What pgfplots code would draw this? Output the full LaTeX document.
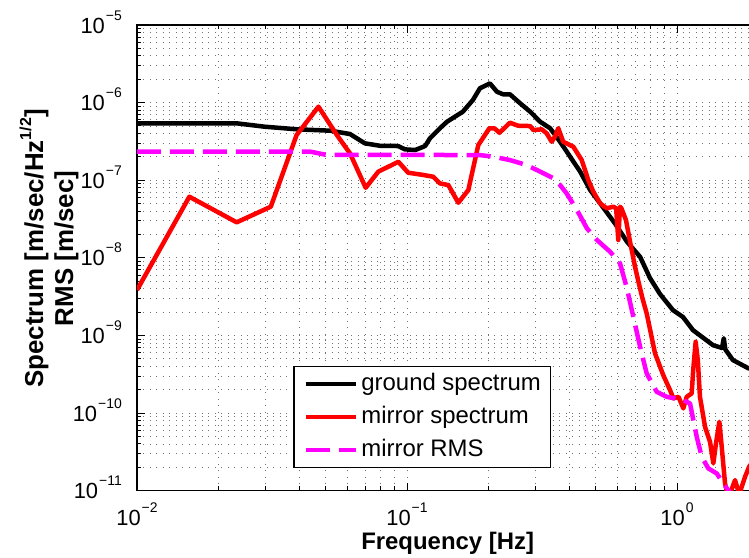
\documentclass[border=0pt]{standalone}
\usepackage{fontspec}
\setmainfont{Liberation Sans}
\usepackage{pgfplots}
\pgfplotsset{compat=1.18}
\newcommand{\tp}[1]{10\raisebox{13bp}{\fontsize{14}{14}\selectfont\kern1bp #1}}
\definecolor{mred}{RGB}{255,0,0}
\definecolor{mmag}{RGB}{255,0,255}
\begin{document}
\begin{tikzpicture}
\begin{axis}[
  xmode=log, ymode=log,
  scale only axis, width=621.3bp, height=465.7bp,
  xmin=0.01, xmax=2, ymin=1e-11, ymax=1e-5,
  xtick={0.01,0.1,1},
  xticklabels={\tp{−2},\tp{−1},\tp{0}},
  ytick={1e-11,1e-10,1e-9,1e-8,1e-7,1e-6,1e-5},
  yticklabels={\tp{−11},\tp{−10},\tp{−9},\tp{−8},\tp{−7},\tp{−6},\tp{−5}},
  minor xtick={0.02,0.03,0.04,0.05,0.06,0.07,0.08,0.09,0.2,0.3,0.4,0.5,0.6,0.7,0.8,0.9,2},
  minor ytick={2e-11,3e-11,4e-11,5e-11,6e-11,7e-11,8e-11,9e-11,
               2e-10,3e-10,4e-10,5e-10,6e-10,7e-10,8e-10,9e-10,
               2e-9,3e-9,4e-9,5e-9,6e-9,7e-9,8e-9,9e-9,
               2e-8,3e-8,4e-8,5e-8,6e-8,7e-8,8e-8,9e-8,
               2e-7,3e-7,4e-7,5e-7,6e-7,7e-7,8e-7,9e-7,
               2e-6,3e-6,4e-6,5e-6,6e-6,7e-6,8e-6,9e-6},
  grid=both,
  major grid style={line width=0.9bp, black!55, dash pattern=on 1bp off 5.5bp},
  minor grid style={line width=0.9bp, black!55, dash pattern=on 1bp off 5.5bp},
  tick align=inside,
  major tick length=8bp, minor tick length=4.5bp,
  every tick/.style={black, line width=1bp},
  axis line style={line width=1.4bp},
  xticklabel style={font=\fontsize{22}{22}\selectfont, inner sep=0pt, anchor=base, yshift=-34.3bp},
  yticklabel style={font=\fontsize{22}{22}\selectfont, inner sep=0pt, anchor=base east, xshift=-15bp, yshift=-8bp},
  xlabel={Frequency [Hz]},
  xlabel style={font=\bfseries\fontsize{24}{24}\selectfont, inner sep=0pt, at={(axis description cs:0.5,-0.1252)}, anchor=base},
  ylabel={Spectrum [m/sec/Hz\raisebox{12bp}{\fontsize{16}{16}\selectfont 1/2}]\\RMS [m/sec]},
  ylabel style={font=\bfseries\fontsize{26}{30}\selectfont, align=center, inner sep=0pt, at={(axis description cs:-0.094,0.52)}, anchor=south},
  legend style={at={(axis description cs:0.2516,0.0481)}, anchor=south west, draw=black, line width=1.2bp,
    font=\fontsize{24}{24}\selectfont, inner xsep=10bp, inner ysep=6.5bp, row sep=11bp,
    nodes={inner sep=0pt, text height=17bp, text depth=5bp}},
  legend cell align=left,
  legend image code/.code={\draw[#1] (0bp,0bp) -- (50bp,0bp) node[right, draw=none, inner sep=0pt, minimum width=3bp] {};},
]
\addplot[black, line width=4.5bp, line join=round] coordinates {
(0.01,5.41e-7) (0.0234,5.41e-7) (0.0298,4.89e-7) (0.0392,4.53e-7) (0.0519,4.35e-7)
(0.0615,3.94e-7) (0.0698,2.99e-7) (0.0794,2.78e-7) (0.0927,2.76e-7) (0.0983,2.50e-7)
(0.1072,2.45e-7) (0.1167,2.76e-7) (0.1216,3.47e-7) (0.1324,4.67e-7) (0.1406,5.67e-7)
(0.161,7.64e-7) (0.1754,1.08e-6) (0.1862,1.53e-6) (0.2027,1.77e-6) (0.2154,1.38e-6)
(0.227,1.28e-6) (0.2405,1.28e-6) (0.2624,9.8e-7) (0.2858,7.64e-7) (0.3113,5.67e-7)
(0.339,4.67e-7) (0.369,3.13e-7) (0.402,2.01e-7) (0.4378,1.29e-7) (0.4768,7.48e-8)
(0.519,5.04e-8) (0.589,2.78e-8) (0.653,1.61e-8) (0.730,1.03e-8) (0.794,5.5e-9)
(0.865,3.42e-9) (0.966,2.12e-9) (1.052,1.73e-9) (1.146,1.17e-9) (1.359,7.5e-10)
(1.468,6.9e-10) (1.49,9.2e-10) (1.51,6.6e-10) (1.611,4.82e-10) (1.832,3.8e-10)
(2.0,3.48e-10)
};
\addlegendentry{ground spectrum}
\addplot[mred, line width=4.5bp, line join=round] coordinates {
(0.01,3.85e-9) (0.01563,6.13e-8) (0.0234,2.87e-8) (0.0313,4.56e-8) (0.039,3.82e-7)
(0.047,8.86e-7) (0.055,3.82e-7) (0.0615,2.22e-7) (0.0703,8.0e-8) (0.0783,1.29e-7)
(0.0929,1.73e-7) (0.101,1.25e-7) (0.1148,1.17e-7) (0.125,1.11e-7) (0.1324,9.1e-8)
(0.1422,8.67e-8) (0.1549,5.13e-8) (0.1687,7.48e-8) (0.1837,2.84e-7) (0.2018,4.67e-7)
(0.2107,4.67e-7) (0.22,4.09e-7) (0.2405,5.51e-7) (0.258,5.04e-7) (0.2858,4.99e-7)
(0.2937,4.43e-7) (0.3155,4.53e-7) (0.329,4.02e-7) (0.3435,3.13e-7) (0.353,3.64e-7)
(0.3633,4.67e-7) (0.379,3.13e-7) (0.413,2.70e-7) (0.4437,1.82e-7) (0.469,1.01e-7)
(0.490,7.11e-8) (0.519,5.04e-8) (0.549,4.35e-8) (0.581,4.56e-8) (0.595,4.35e-8)
(0.606,1.70e-8) (0.615,4.56e-8) (0.6225,4.35e-8) (0.647,3.07e-8) (0.670,1.61e-8)
(0.699,7.7e-9) (0.719,5.0e-9) (0.745,3.0e-9) (0.772,1.93e-9) (0.829,5.88e-10)
(0.889,3.09e-10) (0.942,1.98e-10) (0.969,1.55e-10) (1.013,1.62e-10) (1.055,1.15e-10)
(1.086,1.62e-10) (1.133,1.79e-10) (1.148,3.58e-10) (1.172,8.3e-10) (1.194,4.82e-10)
(1.216,1.62e-10) (1.27,6.66e-11) (1.325,4.27e-11) (1.363,2.25e-11) (1.394,4.07e-11)
(1.435,7.73e-11) (1.464,3.68e-11) (1.506,1.24e-11) (1.55,8e-12) (1.64,1.37e-11)
(1.70,9e-12) (1.786,1.51e-11) (1.849,2.03e-11) (2.0,3e-11)
};
\addlegendentry{mirror spectrum}
\addplot[mmag, line width=4.5bp, line join=round, dash pattern=on 24bp off 9bp] coordinates {
(0.01,2.33e-7) (0.044,2.33e-7) (0.050,2.13e-7) (0.1862,2.11e-7) (0.2089,2.01e-7)
(0.2405,1.82e-7) (0.2773,1.57e-7) (0.3113,1.29e-7) (0.3483,1.06e-7) (0.369,8.67e-8)
(0.390,6.78e-8) (0.426,4.13e-8) (0.4638,2.40e-8) (0.505,1.70e-8) (0.565,1.20e-8)
(0.615,8.5e-9) (0.652,4.08e-9) (0.689,1.74e-9) (0.730,7.15e-10) (0.772,3.25e-10)
(0.841,1.88e-10) (0.916,1.62e-10) (1.055,1.47e-10) (1.117,1.33e-10) (1.183,4.95e-11)
(1.234,2.74e-11) (1.306,1.94e-11) (1.403,1.67e-11) (1.484,1.24e-11) (1.60,8.7e-12)
(2.0,5e-12)
};
\addlegendentry{mirror RMS}
\end{axis}
\pgfresetboundingbox
\useasboundingbox ([shift={(-137bp,-67.3bp)}]current axis.south west) rectangle ([shift={(612bp,490.7bp)}]current axis.south west);
\end{tikzpicture}
\end{document}
